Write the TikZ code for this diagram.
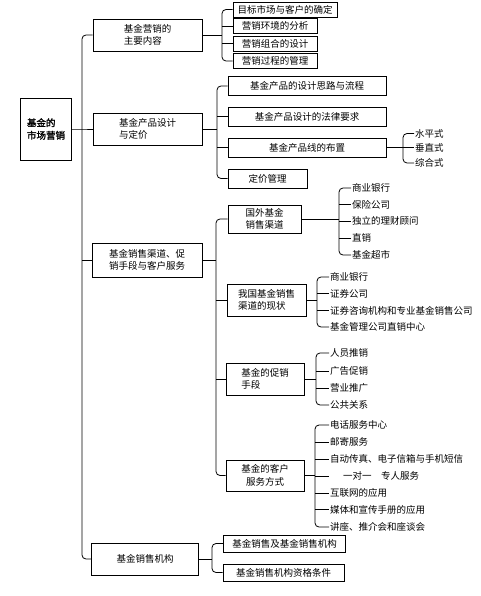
\documentclass[tikz,border=0pt]{standalone}
\usepackage{fontspec}
\setmainfont{Noto Sans CJK SC}[AutoFakeBold=2]
\newcommand\myfs{\fontsize{9.5}{12.5}\selectfont}
\tikzset{
  box/.style={draw, line width=0.9pt, inner sep=1pt, font=\myfs},
  item/.style={anchor=west, inner sep=1pt, font=\myfs},
  conn/.style={line width=0.8pt},
  brk/.style={conn, rounded corners=4pt}
}
\begin{document}
\begin{tikzpicture}[x=1pt,y=-1pt]
\useasboundingbox (0,0) rectangle (481,596);
% root and level 1
\node[box, minimum width=51, minimum height=62, align=left, font=\myfs\bfseries] (root) at (46,129) {基金的\\市场营销};
\node[box, minimum width=109, minimum height=32, align=left] (A) at (147.5,35) {基金营销的\\主要内容};
\node[box, minimum width=109, minimum height=32, align=left] (B) at (147.5,129) {基金产品设计\\与定价};
\node[box, minimum width=110, minimum height=34, align=center] (C) at (147,260) {基金销售渠道、促\\销手段与客户服务};
\node[box, minimum width=107, minimum height=32] (D) at (145,559) {基金销售机构};
\coordinate (tr) at (82,129);
\draw[brk] (A.west) -| (tr) |- (D.west);
\draw[conn] (root.east) -- (tr) -- (B.west);
\draw[conn] (C.west -| tr) -- (C.west);

% A children
\node[box, minimum width=104, minimum height=15] (a1) at (285,9.5) {目标市场与客户的确定};
\node[box, minimum width=84, minimum height=15] (a2) at (275,26) {营销环境的分析};
\node[box, minimum width=84, minimum height=15] (a3) at (275,43.5) {营销组合的设计};
\node[box, minimum width=84, minimum height=15] (a4) at (275,61) {营销过程的管理};
\coordinate (ja) at (222,35);
\draw[conn] (A.east) -- (ja);
\draw[brk] (a1.west) -| (ja) |- (a4.west);
\draw[conn] (a2.west -| ja) -- (a2.west);
\draw[conn] (a3.west -| ja) -- (a3.west);

% B children
\node[box, minimum width=158, minimum height=19] (b1) at (307,86) {基金产品的设计思路与流程};
\node[box, minimum width=158, minimum height=19] (b2) at (307,116.5) {基金产品设计的法律要求};
\node[box, minimum width=158, minimum height=19] (b3) at (307,147.5) {基金产品线的布置};
\node[box, minimum width=79, minimum height=19] (b4) at (267.5,178.5) {定价管理};
\coordinate (jb) at (217,129);
\draw[conn] (B.east) -- (jb);
\draw[brk] (b1.west) -| (jb) |- (b4.west);
\draw[conn] (b2.west -| jb) -- (b2.west);
\draw[conn] (b3.west -| jb) -- (b3.west);

% b3 items
\node[item] (h1) at (414,133.5) {水平式};
\node[item] (h2) at (414,147.5) {垂直式};
\node[item] (h3) at (414,163) {综合式};
\coordinate (jb3) at (403,147.5);
\draw[conn] (b3.east) -- (jb3);
\draw[brk] (h1.west) -| (jb3) |- (h3.west);
\draw[conn] (jb3) -- (h2.west);

% C children
\node[box, minimum width=73, minimum height=28, align=center] (c1) at (264.5,219) {国外基金\\销售渠道};
\node[box, minimum width=79, minimum height=32, align=left] (c2) at (266.5,300) {我国基金销售\\渠道的现状};
\node[box, minimum width=78, minimum height=32, align=left] (c3) at (265,379) {基金的促销\\手段};
\node[box, minimum width=78, minimum height=31, align=center] (c4) at (265,475.5) {基金的客户\\服务方式};
\coordinate (jc) at (216,260);
\draw[conn] (C.east) -- (jc);
\draw[brk] (c1.west) -| (jc) |- (c4.west);
\draw[conn] (c2.west -| jc) -- (c2.west);
\draw[conn] (c3.west -| jc) -- (c3.west);

% c1 items
\node[item] (e1) at (351,188) {商业银行};
\node[item] (e2) at (351,204.5) {保险公司};
\node[item] (e3) at (351,221) {独立的理财顾问};
\node[item] (e4) at (351,238) {直销};
\node[item] (e5) at (351,255) {基金超市};
\coordinate (jc1) at (339,219);
\draw[conn] (c1.east) -- (jc1);
\draw[brk] (e1.west) -| (jc1) |- (e5.west);
\foreach \n in {e2,e3,e4} \draw[conn] (\n.west -| jc1) -- (\n.west);

% c2 items
\node[item] (f1) at (329,277) {商业银行};
\node[item] (f2) at (329,293.5) {证券公司};
\node[item] (f3) at (329,310.5) {证券咨询机构和专业基金销售公司};
\node[item] (f4) at (329,327) {基金管理公司直销中心};
\coordinate (jc2) at (317,300);
\draw[conn] (c2.east) -- (jc2);
\draw[brk] (f1.west) -| (jc2) |- (f4.west);
\foreach \n in {f2,f3} \draw[conn] (\n.west -| jc2) -- (\n.west);

% c3 items
\node[item] (g1) at (329,353) {人员推销};
\node[item] (g2) at (329,371) {广告促销};
\node[item] (g3) at (329,388) {营业推广};
\node[item] (g4) at (329,405) {公共关系};
\coordinate (jc3) at (316,379);
\draw[conn] (c3.east) -- (jc3);
\draw[brk] (g1.west) -| (jc3) |- (g4.west);
\foreach \n in {g2,g3} \draw[conn] (\n.west -| jc3) -- (\n.west);

% c4 items
\node[item] (k1) at (329,425) {电话服务中心};
\node[item] (k2) at (329,442) {邮寄服务};
\node[item] (k3) at (329,459) {自动传真、电子信箱与手机短信};
\node[item] (k4) at (329,476) {\hspace{13pt}一对一\quad 专人服务};
\node[item] (k5) at (329,493) {互联网的应用};
\node[item] (k6) at (329,509.5) {媒体和宣传手册的应用};
\node[item] (k7) at (329,527) {讲座、推介会和座谈会};
\coordinate (jc4) at (315,475.5);
\draw[conn] (c4.east) -- (jc4);
\draw[brk] (k1.west) -| (jc4) |- (k7.west);
\foreach \n in {k2,k3,k4,k5,k6} \draw[conn] (\n.west -| jc4) -- (\n.west);

% D children
\node[box, minimum width=122, minimum height=17] (d1) at (284.5,543.5) {基金销售及基金销售机构};
\node[box, minimum width=121, minimum height=17] (d2) at (283.5,572.5) {基金销售机构资格条件};
\coordinate (jd) at (212,559);
\draw[conn] (D.east) -- (jd);
\draw[brk] (d1.west) -| (jd) |- (d2.west);
\end{tikzpicture}
\end{document}
